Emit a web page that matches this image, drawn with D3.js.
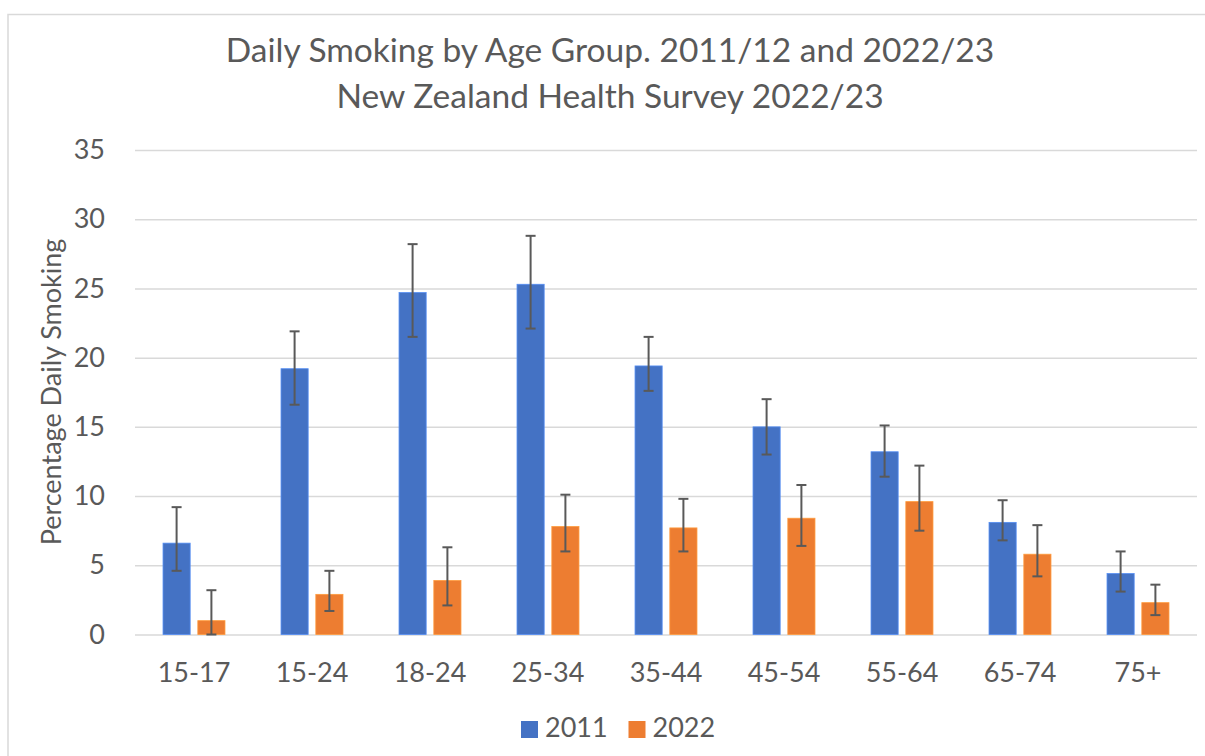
<!DOCTYPE html>
<html>
<head>
<meta charset="utf-8">
<script src="https://cdn.jsdelivr.net/npm/d3@7"></script>
<style>
    body { margin: 0; background: #ffffff; }
    text { font-family: Lato, "Open Sans", sans-serif; fill: #595959; }
</style>
</head>
<body>
<svg id="chart"></svg>
<script>
const ageGroups = ["15-17", "15-24", "18-24", "25-34", "35-44", "45-54", "55-64", "65-74", "75+"];
const seriesNames = ["2011", "2022"];

// point estimates with 95% CI
const smoking2011 = [6.6, 19.2, 24.7, 25.3, 19.4, 15.0, 13.2, 8.1, 4.4];
const low2011 = [4.6, 16.6, 21.5, 22.1, 17.6, 13.0, 11.4, 6.8, 3.1];
const high2011 = [9.2, 21.9, 28.2, 28.8, 21.5, 17.0, 15.1, 9.7, 6.0];

const smoking2022 = [1.0, 2.9, 3.9, 7.8, 7.7, 8.4, 9.6, 5.8, 2.3];
const low2022 = [0.0, 1.7, 2.1, 6.0, 6.0, 6.4, 7.5, 4.2, 1.4];
const high2022 = [3.2, 4.6, 6.3, 10.1, 9.8, 10.8, 12.2, 7.9, 3.6];

const yTicks = [0, 5, 10, 15, 20, 25, 30, 35];

const colors = { "2011": "#4472C4", "2022": "#ED7D31" };
const gridColor = "#d9d9d9";
const errColor = "#595959";

const width = 1205, height = 756;
const margin = { t: 150, r: 8, b: 121.5, l: 135 };

const svg = d3.select("#chart").attr("width", width).attr("height", height);

// chart frame
svg.append("rect")
    .attr("x", 8).attr("y", 14.5)
    .attr("width", width + 10).attr("height", height)
    .attr("fill", "#fff")
    .attr("stroke", "#d9d9d9")
    .attr("stroke-width", 1.5);

const rows = ageGroups.map((g, i) => ({
    group: g,
    values: [
        { key: "2011", v: smoking2011[i], lo: low2011[i], hi: high2011[i] },
        { key: "2022", v: smoking2022[i], lo: low2022[i], hi: high2022[i] }
    ]
}));

const x0 = d3.scaleBand().domain(ageGroups)
    .range([margin.l, width - margin.r])
    .paddingInner(0.475).paddingOuter(0.2375);
const x1 = d3.scaleBand().domain(seriesNames)
    .range([0, x0.bandwidth()])
    .paddingInner(0.22);
const y = d3.scaleLinear().domain([0, 35]).range([height - margin.b, margin.t]);

// gridlines + y labels
const yAxis = svg.append("g")
    .attr("transform", "translate(" + margin.l + ",0)")
    .call(d3.axisLeft(y).tickValues(yTicks).tickSize(-(width - margin.r - margin.l)).tickPadding(30));
yAxis.select(".domain").remove();
yAxis.selectAll(".tick line").attr("stroke", gridColor).attr("stroke-width", 1.5);
yAxis.selectAll(".tick text")
    .style("font-family", "Lato, sans-serif")
    .style("font-size", "27px")
    .attr("fill", "#595959");

// x labels
const xAxis = svg.append("g")
    .attr("transform", "translate(0," + y(0) + ")")
    .call(d3.axisBottom(x0).tickSize(0).tickPadding(28));
xAxis.select(".domain").remove();
xAxis.selectAll(".tick text")
    .style("font-family", "Lato, sans-serif")
    .style("font-size", "27px")
    .attr("fill", "#595959");

// bars
const groups = svg.selectAll(".group")
    .data(rows)
    .join("g")
    .attr("class", "group")
    .attr("transform", d => "translate(" + x0(d.group) + ",0)");

groups.selectAll("rect")
    .data(d => d.values)
    .join("rect")
    .attr("x", d => x1(d.key))
    .attr("y", d => y(d.v))
    .attr("width", x1.bandwidth())
    .attr("height", d => y(0) - y(d.v))
    .attr("fill", d => colors[d.key])
    .attr("stroke", d => d3.color(colors[d.key]).brighter(0.6))
    .attr("stroke-width", 0.8);

// error bars
const capW = 5;
const err = groups.selectAll(".err")
    .data(d => d.values)
    .join("g")
    .attr("class", "err")
    .attr("transform", d => "translate(" + (x1(d.key) + x1.bandwidth() / 2) + ",0)")
    .attr("stroke", errColor)
    .attr("stroke-width", 2);
err.append("line").attr("y1", d => y(d.lo)).attr("y2", d => y(d.hi));
err.append("line").attr("x1", -capW).attr("x2", capW).attr("y1", d => y(d.hi)).attr("y2", d => y(d.hi));
err.append("line").attr("x1", -capW).attr("x2", capW).attr("y1", d => y(d.lo)).attr("y2", d => y(d.lo));

// title
svg.append("text")
    .attr("x", 610).attr("y", 62)
    .attr("text-anchor", "middle")
    .style("font-size", "33.5px")
    .text("Daily Smoking by Age Group. 2011/12 and 2022/23");
svg.append("text")
    .attr("x", 610).attr("y", 108)
    .attr("text-anchor", "middle")
    .style("font-size", "33.5px")
    .text("New Zealand Health Survey 2022/23");

// y axis title
svg.append("text")
    .attr("transform", "translate(61,392) rotate(-90)")
    .attr("text-anchor", "middle")
    .style("font-size", "27px")
    .text("Percentage Daily Smoking");

// legend
const legend = svg.append("g").attr("transform", "translate(521,721)");
const legendItems = legend.selectAll("g")
    .data(seriesNames)
    .join("g")
    .attr("transform", (d, i) => "translate(" + (i * 107.5) + ",0)");
legendItems.append("rect")
    .attr("width", 17).attr("height", 17)
    .attr("fill", d => colors[d]);
legendItems.append("text")
    .attr("x", 24).attr("y", 16)
    .style("font-size", "27px")
    .text(d => d);
</script>
</body>
</html>
